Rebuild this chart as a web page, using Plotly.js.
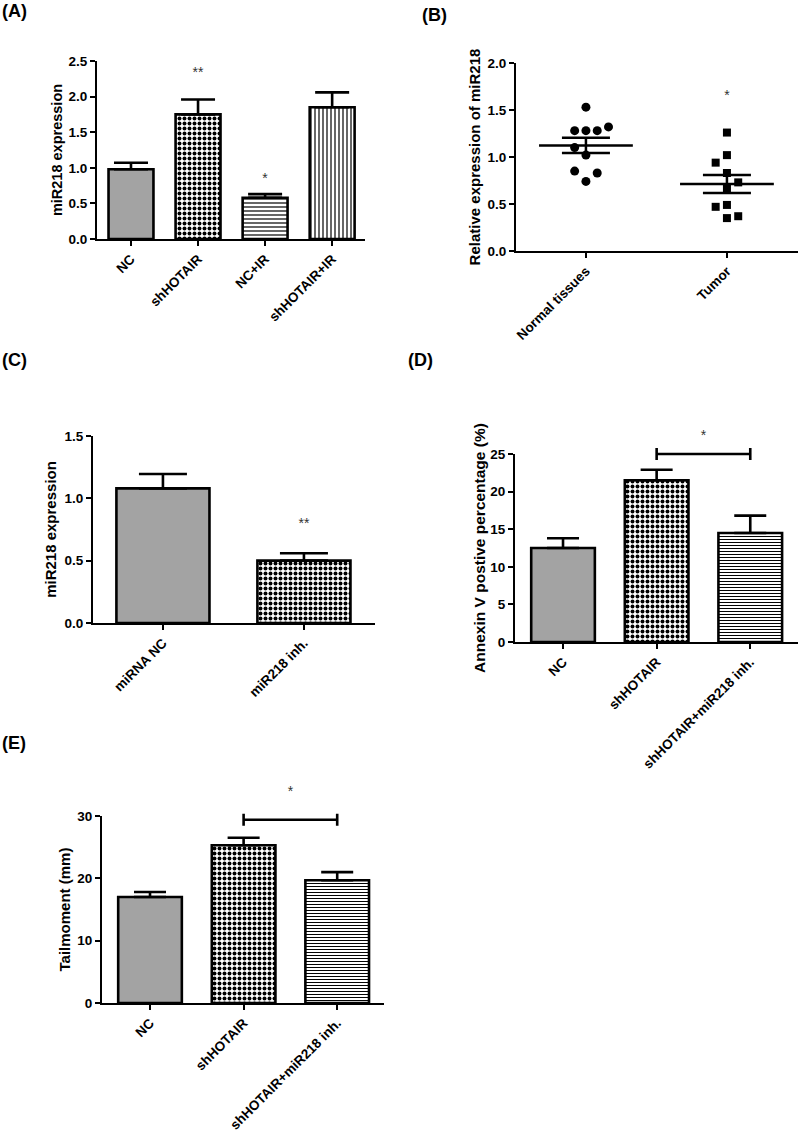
<!DOCTYPE html>
<html>
<head>
<meta charset="utf-8">
<script src="https://cdn.plot.ly/plotly-3.0.1.min.js"></script>
<style>html,body{margin:0;padding:0;background:#fff;}#chart{width:798px;height:1135px;}</style>
</head>
<body>
<div id="chart"></div>
<script>
// ---------- DATA ----------
// (A)
const catsA = ['NC', 'shHOTAIR', 'NC+IR', 'shHOTAIR+IR'];
const meanA = [0.98, 1.75, 0.58, 1.85];
const semA = [0.09, 0.21, 0.05, 0.21];
const starTextA = ['', '**', '*', ''];
const starValA = [null, 2.33, 0.83, null];

// (B)
const catsB = ['Normal tissues', 'Tumor'];
const normalVals = [1.53, 1.28, 1.28, 1.28, 1.32, 1.10, 1.02, 0.85, 0.83, 0.74];
const normalJitter = [0, -0.08, 0, 0.08, 0.16, -0.08, 0, -0.08, 0.08, 0];
const tumorVals = [1.26, 1.02, 0.94, 0.83, 0.73, 0.66, 0.49, 0.47, 0.37, 0.35];
const tumorJitter = [0, 0, -0.08, 0, 0.08, 0, 0, -0.08, 0.08, 0];
const starTextB = ['', '*'];
const starValB = [null, 1.64];

// (C)
const catsC = ['miRNA NC', 'miR218 inh.'];
const meanC = [1.08, 0.50];
const semC = [0.115, 0.06];
const starTextC = ['', '**'];
const starValC = [null, 0.79];

// (D)
const catsD = ['NC', 'shHOTAIR', 'shHOTAIR+miR218 inh.'];
const meanD = [12.5, 21.5, 14.5];
const semD = [1.3, 1.4, 2.3];
const bracketD = {from: 1, to: 2, value: 25, star: '*', starVal: 27.3};

// (E)
const catsE = ['NC', 'shHOTAIR', 'shHOTAIR+miR218 inh.'];
const meanE = [17.0, 25.3, 19.7];
const semE = [0.8, 1.2, 1.3];
const bracketE = {from: 1, to: 2, value: 29.4, star: '*', starVal: 33.7};

// ---------- STYLE / LAYOUT HELPERS ----------
const W = 798, H = 1135;
const FONT = 'Liberation Sans, Arial, Helvetica, sans-serif';
const fx = p => p / W;
const fy = p => 1 - p / H;

const PAT = {
  fine:   {shape: '.', size: 2, solidity: 0.36},
  coarse: {shape: '.', size: 5, solidity: 0.5},
  hlines: {shape: '-', size: 4, solidity: 0.3},
  hfine:  {shape: '-', size: 3, solidity: 0.33},
  vlines: {shape: '|', size: 4, solidity: 0.3}
};

function barTrace(ax, cats, means, sems, patterns, width, capW) {
  return {
    type: 'bar', xaxis: 'x' + ax, yaxis: 'y' + ax,
    x: cats.map((c, i) => i), y: means, width: width,
    marker: {color: '#fff', line: {color: '#000', width: 2.6},
             pattern: {shape: patterns.map(p => p.shape), size: patterns.map(p => p.size),
                       solidity: patterns.map(p => p.solidity), fgcolor: '#000', bgcolor: '#fff',
                       fillmode: 'replace'}},
    error_y: {type: 'data', symmetric: false, array: sems, arrayminus: sems.map(() => 0),
              color: '#000', thickness: 2.6, width: capW},
    showlegend: false, hoverinfo: 'skip', cliponaxis: false
  };
}

function xAxis(dom, range, cats) {
  return {
    domain: [fx(dom[0]), fx(dom[1])], range: range,
    showline: true, linecolor: '#000', linewidth: 2, zeroline: false, showgrid: false,
    ticks: 'outside', ticklen: 5, tickwidth: 2, tickcolor: '#000',
    tickmode: 'array', tickvals: cats.map((c, i) => i), ticktext: cats, tickangle: -45,
    tickfont: {family: FONT, size: 13.5, weight: 'bold', color: '#000'},
    automargin: false, fixedrange: true
  };
}
function yAxis(dom, range, dtick, fmt, title, tsize, standoff) {
  return {
    domain: [fy(dom[1]), fy(dom[0])], range: range,
    showline: true, linecolor: '#000', linewidth: 2, zeroline: false, showgrid: false,
    ticks: 'outside', ticklen: 5, tickwidth: 2, tickcolor: '#000',
    tick0: 0, dtick: dtick, tickformat: fmt,
    tickfont: {family: FONT, size: 13.5, weight: 'bold', color: '#000'},
    title: {text: title, font: {family: FONT, size: tsize, weight: 'bold', color: '#000'}, standoff: standoff},
    automargin: false, fixedrange: true
  };
}
// invisible helper axes with the same scale, but extended upward (for brackets and stars above the axis top)
function helperX(dom, range) {
  return {domain: [fx(dom[0]), fx(dom[1])], range: range, visible: false, fixedrange: true};
}
function helperY(dom, range, extraPx) {
  const scale = (range[1] - range[0]) / (dom[1] - dom[0]);
  return {domain: [fy(dom[1]), fy(dom[0] - extraPx)], range: [range[0], range[1] + extraPx * scale],
          visible: false, fixedrange: true};
}

const traces = [];
traces.push(barTrace('', catsA, meanA, semA, [PAT.fine, PAT.coarse, PAT.hlines, PAT.vlines], 0.67, 17));
traces.push(barTrace('3', catsC, meanC, semC, [PAT.fine, PAT.coarse], 0.66, 24));
traces.push(barTrace('4', catsD, meanD, semD, [PAT.fine, PAT.coarse, PAT.hfine], 0.68, 16));
traces.push(barTrace('5', catsE, meanE, semE, [PAT.fine, PAT.coarse, PAT.hfine], 0.68, 16));

// (B) scatter
function meanOf(a) { return a.reduce((s, v) => s + v, 0) / a.length; }
function semOf(a) { const m = meanOf(a); const v = a.reduce((s, x) => s + (x - m) * (x - m), 0) / (a.length - 1); return Math.sqrt(v / a.length); }
traces.push({type: 'scatter', mode: 'markers', xaxis: 'x2', yaxis: 'y2',
  x: normalVals.map((v, i) => 0 + normalJitter[i]), y: normalVals,
  marker: {symbol: 'circle', size: 9, color: '#000'}, showlegend: false, hoverinfo: 'skip', cliponaxis: false});
traces.push({type: 'scatter', mode: 'markers', xaxis: 'x2', yaxis: 'y2',
  x: tumorVals.map((v, i) => 1 + tumorJitter[i]), y: tumorVals,
  marker: {symbol: 'square', size: 8, color: '#000'}, showlegend: false, hoverinfo: 'skip', cliponaxis: false});
traces.push({type: 'scatter', mode: 'markers', xaxis: 'x2', yaxis: 'y2',
  x: [0, 1], y: [meanOf(normalVals), meanOf(tumorVals)],
  marker: {symbol: 'line-ew', size: 67, color: '#000', line: {color: '#000', width: 2.5}},
  error_y: {type: 'data', array: [semOf(normalVals), semOf(tumorVals)], color: '#000', thickness: 2.5, width: 24},
  showlegend: false, hoverinfo: 'skip', cliponaxis: false});

// significance stars (text traces)
function starTrace(ax, xs, texts, vals) {
  const keep = texts.map((t, i) => i).filter(i => texts[i]);
  return {type: 'scatter', mode: 'text', xaxis: 'x' + ax, yaxis: 'y' + ax,
    x: keep.map(i => xs[i]), y: keep.map(i => vals[i]), text: keep.map(i => texts[i]),
    textposition: 'middle center', textfont: {family: FONT, size: 14, color: '#333'},
    showlegend: false, hoverinfo: 'skip', cliponaxis: false};
}
traces.push(starTrace('', catsA.map((c, i) => i), starTextA, starValA));
traces.push(starTrace('2', catsB.map((c, i) => i), starTextB, starValB));
traces.push(starTrace('3', catsC.map((c, i) => i), starTextC, starValC));

// brackets (horizontal error bar with caps) + star, on helper axes
function bracketTraces(ax, b) {
  const mid = (b.from + b.to) / 2;
  return [
    {type: 'scatter', mode: 'markers', xaxis: 'x' + ax, yaxis: 'y' + ax,
     x: [mid], y: [b.value], marker: {size: 1, color: 'rgba(0,0,0,0)'},
     error_x: {type: 'data', array: [(b.to - b.from) / 2], color: '#000', thickness: 2.6, width: 6},
     showlegend: false, hoverinfo: 'skip', cliponaxis: false},
    {type: 'scatter', mode: 'text', xaxis: 'x' + ax, yaxis: 'y' + ax,
     x: [mid], y: [b.starVal], text: [b.star], textposition: 'middle center',
     textfont: {family: FONT, size: 14, color: '#333'}, showlegend: false, hoverinfo: 'skip', cliponaxis: false}
  ];
}
traces.push(...bracketTraces('6', bracketD));
traces.push(...bracketTraces('7', bracketE));

// ---------- ANNOTATIONS ----------
const annotations = [];
function panelLabel(t, xp, yp) {
  annotations.push({text: t, xref: 'paper', yref: 'paper', x: fx(xp), y: fy(yp), xanchor: 'left', yanchor: 'middle',
    showarrow: false, font: {family: FONT, size: 18, weight: 'bold', color: '#000'}});
}
panelLabel('(A)', 0, 11);
panelLabel('(B)', 420, 15);
panelLabel('(C)', 0, 360);
panelLabel('(D)', 406, 360);
panelLabel('(E)', 0, 743);

const geoD = {x: [515, 798], y: [454, 642], xr: [-0.513, 2.51], yr: [0, 25]};
const geoE = {x: [102, 384], y: [816, 1003], xr: [-0.513, 2.50], yr: [0, 30]};

const layout = {
  width: W, height: H, margin: {l: 0, r: 0, t: 0, b: 0},
  paper_bgcolor: '#fff', plot_bgcolor: 'rgba(0,0,0,0)', showlegend: false,
  font: {family: FONT, color: '#000'},
  xaxis:  Object.assign(xAxis([97, 365], [-0.507, 3.49], catsA), {anchor: 'y'}),
  yaxis:  Object.assign(yAxis([61, 239], [0, 2.5], 0.5, '.1f', 'miR218 expression', 14.5, 2), {anchor: 'x'}),
  xaxis2: Object.assign(xAxis([516, 798], [-0.496, 1.504], catsB), {anchor: 'y2'}),
  yaxis2: Object.assign(yAxis([63, 251], [0, 2.0], 0.5, '.1f', 'Relative expression of miR218', 15, 3), {anchor: 'x2'}),
  xaxis3: Object.assign(xAxis([93, 375], [-0.496, 1.504], catsC), {anchor: 'y3'}),
  yaxis3: Object.assign(yAxis([436, 623], [0, 1.5], 0.5, '.1f', 'miR218 expression', 15, 4), {anchor: 'x3'}),
  xaxis4: Object.assign(xAxis(geoD.x, geoD.xr, catsD), {anchor: 'y4'}),
  yaxis4: Object.assign(yAxis(geoD.y, geoD.yr, 5, '', 'Annexin V postive percentage (%)', 15.5, 1), {anchor: 'x4'}),
  xaxis5: Object.assign(xAxis(geoE.x, geoE.xr, catsE), {anchor: 'y5'}),
  yaxis5: Object.assign(yAxis(geoE.y, geoE.yr, 10, '', 'Tailmoment (mm)', 15, 3), {anchor: 'x5'}),
  xaxis6: Object.assign(helperX(geoD.x, geoD.xr), {anchor: 'y6'}),
  yaxis6: Object.assign(helperY(geoD.y, geoD.yr, 40), {anchor: 'x6'}),
  xaxis7: Object.assign(helperX(geoE.x, geoE.xr), {anchor: 'y7'}),
  yaxis7: Object.assign(helperY(geoE.y, geoE.yr, 40), {anchor: 'x7'}),
  annotations: annotations
};

Plotly.newPlot('chart', traces, layout, {staticPlot: true, displayModeBar: false});
</script>
</body>
</html>
